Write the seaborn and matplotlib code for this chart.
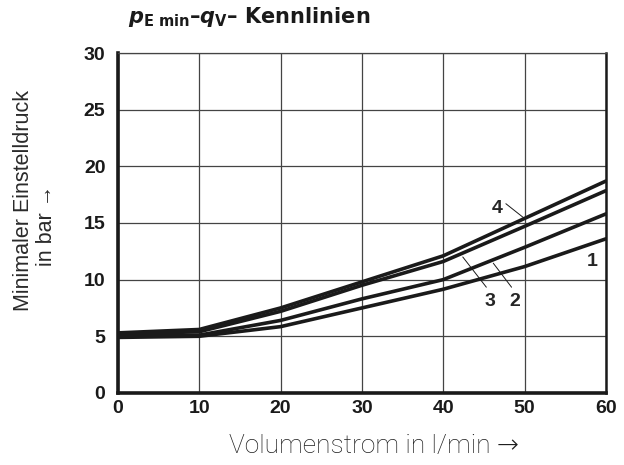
import numpy as np
import pandas as pd
import matplotlib
matplotlib.use("Agg")
import matplotlib.pyplot as plt
import seaborn as sns

# --- data ---
flow = [0, 10, 20, 30, 40, 50, 60]          # l/min
curve_1 = [4.9, 5.0, 5.85, 7.5, 9.15, 11.15, 13.6]
curve_2 = [5.0, 5.1, 6.4, 8.3, 10.0, 12.85, 15.8]
curve_3 = [5.2, 5.4, 7.2, 9.5, 11.6, 14.7, 17.85]
curve_4 = [5.3, 5.6, 7.5, 9.8, 12.1, 15.4, 18.7]
curve_names = ["1", "2", "3", "4"]

x_ticks = [0, 10, 20, 30, 40, 50, 60]
y_ticks = [0, 5, 10, 15, 20, 25, 30]

df = pd.concat([
    pd.DataFrame({"q": flow, "p": vals, "curve": name})
    for name, vals in zip(curve_names, [curve_1, curve_2, curve_3, curve_4])
], ignore_index=True)

sns.set_style("white")
plt.rcParams["mathtext.fontset"] = "custom"
plt.rcParams["mathtext.bf"] = "DejaVu Sans:bold"
plt.rcParams["mathtext.bfit"] = "DejaVu Sans:italic:bold"
plt.rcParams["mathtext.rm"] = "DejaVu Sans"

fig = plt.figure(figsize=(6.24, 4.65), dpi=100)
ax = fig.add_axes([0.189, 0.155, 0.782, 0.731])

sns.lineplot(data=df, x="q", y="p", hue="curve", palette=["#1a1a1a"] * 4,
             linewidth=2.6, legend=False, ax=ax, zorder=3)

ax.set_xlim(0, 60)
ax.set_ylim(0, 30)
ax.set_xticks(x_ticks)
ax.set_yticks(y_ticks)
ax.set_xlabel("")
ax.set_ylabel("")
ax.grid(True, color="#444444", linewidth=0.9)
ax.tick_params(axis="y", length=0, pad=9)
ax.tick_params(axis="x", length=0, pad=5)

num_font = dict(family=["Liberation Sans", "DejaVu Sans"], weight="bold", size=14)
ax.set_xticklabels([str(t) for t in x_ticks], **num_font, color="#1a1a1a")
ax.set_yticklabels([str(t) for t in y_ticks], **num_font, color="#1a1a1a")

for side in ["left", "bottom"]:
    ax.spines[side].set_linewidth(2.6)
    ax.spines[side].set_color("#1a1a1a")
ax.spines["right"].set_linewidth(1.8)
ax.spines["right"].set_color("#1a1a1a")
ax.spines["top"].set_linewidth(0.9)
ax.spines["top"].set_color("#444444")

# axis labels (placed in figure coords)
fig.text(374 / 624, 1 - 446 / 465, "Volumenstrom in l/min →", ha="center", va="center",
         family=["Roboto", "DejaVu Sans"], weight="light", size=19, color="#1f1f1f")
ylab_font = dict(family=["Liberation Sans", "DejaVu Sans"], size=15.5, color="#2a2a2a",
                 rotation=90, ha="center", va="center")
fig.text(24 / 624, 1 - 200 / 465, "Minimaler Einstelldruck", **ylab_font)
fig.text(47 / 624, 1 - 225 / 465, "in bar →", **ylab_font)

fig.text(128 / 624, 1 - 17 / 465,
         r"$\mathbfit{p}_{\mathbf{E\ min}}$–$\mathbfit{q}_{\mathbf{V}}$– Kennlinien",
         family=["DejaVu Sans"], weight="bold", size=15,
         color="#1a1a1a", va="center", ha="left")

# curve labels with leader lines
ax.text(46.6, 16.3, "4", ha="center", va="center", **num_font)
ax.plot([47.7, 49.9], [16.7, 15.45], color="#1a1a1a", lw=0.7)
ax.text(45.7, 8.06, "3", ha="center", va="center", **num_font)
ax.plot([45.3, 42.4], [9.33, 12.0], color="#1a1a1a", lw=0.7)
ax.text(48.8, 8.06, "2", ha="center", va="center", **num_font)
ax.plot([48.4, 46.15], [9.33, 11.45], color="#1a1a1a", lw=0.7)
ax.text(58.3, 11.6, "1", ha="center", va="center", **num_font)

fig.savefig("out.png", dpi=100)
